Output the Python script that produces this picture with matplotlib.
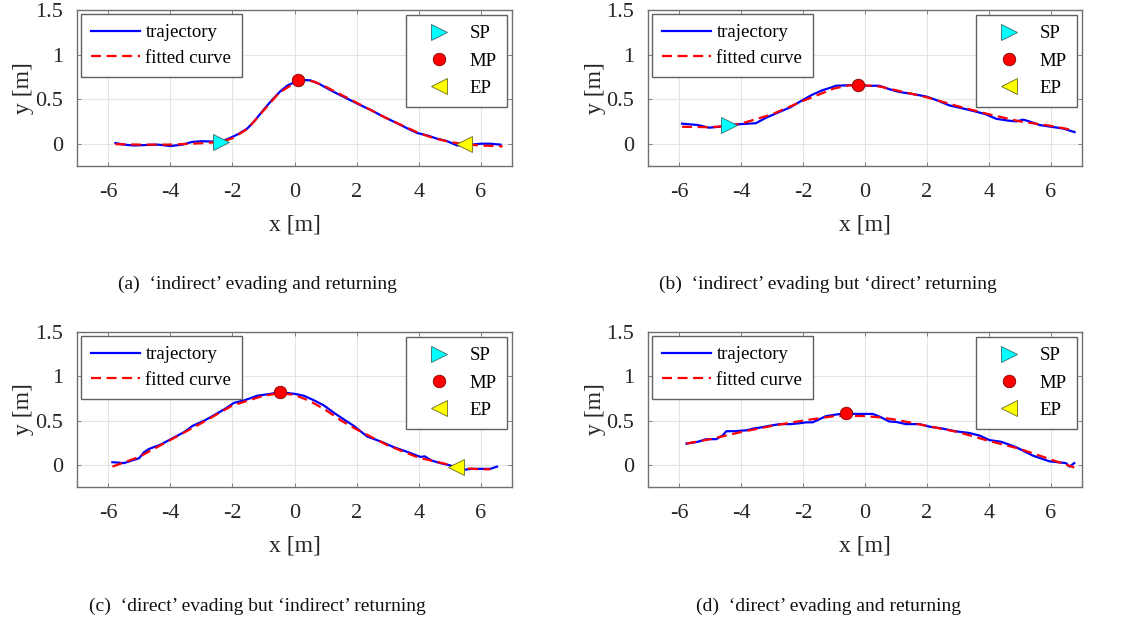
import numpy as np
import matplotlib
matplotlib.use('Agg')
import matplotlib.pyplot as plt
from matplotlib.lines import Line2D

plt.rcParams['font.family'] = ['Liberation Serif', 'DejaVu Serif']

# (a) 'indirect' evading and returning
traj_a_x = [-5.76, -5.5, -5.17, -4.8, -4.4, -3.99, -3.6, -3.3, -3.0, -2.7, -2.38, -2.1, -1.8, -1.52, -1.3,
            -1.09, -0.85, -0.67, -0.45, -0.24, 0.0, 0.12, 0.3, 0.52, 0.8, 1.16, 1.5, 2.02, 2.5, 2.88, 3.3,
            3.7, 3.95, 4.3, 4.59, 4.9, 5.24, 5.45, 5.7, 5.99, 6.3, 6.63]
traj_a_y = [0.007, -0.01, -0.02, -0.015, -0.01, -0.026, -0.01, 0.02, 0.028, 0.025, 0.02, 0.06, 0.11, 0.17,
            0.25, 0.34, 0.44, 0.51, 0.59, 0.65, 0.69, 0.71, 0.715, 0.71, 0.67, 0.60, 0.54, 0.45, 0.37, 0.30,
            0.23, 0.16, 0.12, 0.09, 0.056, 0.03, -0.02, -0.01, -0.01, 0.0, 0.0, -0.01]
fit_a_x = [-5.76, -5, -4, -3, -2.38, -2, -1.5, -1, -0.5, 0, 0.3, 0.6, 1, 1.5, 2, 2.5, 3, 3.5, 4, 4.5, 5,
           5.45, 6, 6.7]
fit_a_y = [-0.005, -0.01, -0.01, 0.005, 0.02, 0.06, 0.17, 0.37, 0.57, 0.68, 0.71, 0.70, 0.64, 0.55, 0.46,
           0.37, 0.28, 0.20, 0.12, 0.06, 0.02, -0.005, -0.02, -0.03]
sp_a = (-2.38, 0.02)
mp_a = (0.12, 0.71)
ep_a = (5.45, -0.005)

# (b) 'indirect' evading but 'direct' returning
traj_b_x = [-5.9, -5.4, -5.03, -4.7, -4.38, -4.0, -3.52, -3.2, -2.87, -2.4, -2.01, -1.7, -1.37, -1.1, -0.94,
            -0.6, -0.24, 0.1, 0.46, 0.8, 1.11, 1.5, 1.97, 2.3, 2.72, 3.1, 3.58, 3.9, 4.23, 4.6, 4.88, 5.1,
            5.3, 5.63, 6.0, 6.4, 6.76]
traj_b_y = [0.225, 0.21, 0.18, 0.19, 0.21, 0.22, 0.23, 0.29, 0.34, 0.41, 0.49, 0.55, 0.60, 0.63, 0.65,
            0.655, 0.66, 0.65, 0.65, 0.61, 0.58, 0.56, 0.53, 0.49, 0.43, 0.40, 0.36, 0.33, 0.28, 0.26, 0.25,
            0.27, 0.25, 0.21, 0.19, 0.17, 0.13]
fit_b_x = [-5.9, -5, -4.38, -4, -3, -2, -1, -0.5, 0, 0.5, 1, 2, 3, 4, 5, 6, 6.76]
fit_b_y = [0.19, 0.185, 0.20, 0.225, 0.33, 0.48, 0.62, 0.655, 0.655, 0.64, 0.60, 0.52, 0.42, 0.33, 0.25,
           0.20, 0.15]
sp_b = (-4.38, 0.21)
mp_b = (-0.24, 0.66)

# (c) 'direct' evading but 'indirect' returning
traj_c_x = [-5.86, -5.49, -5.0, -4.85, -4.68, -4.3, -3.98, -3.55, -3.28, -2.9, -2.59, -2.2, -1.95, -1.6,
            -1.2, -0.8, -0.47, -0.2, 0.03, 0.3, 0.62, 0.95, 1.26, 1.6, 1.91, 2.34, 2.8, 3.19, 3.6, 4.05,
            4.2, 4.4, 4.69, 5.0, 5.18, 5.44, 5.7, 5.98, 6.3, 6.52]
traj_c_y = [0.03, 0.02, 0.075, 0.14, 0.18, 0.23, 0.29, 0.37, 0.44, 0.50, 0.56, 0.64, 0.70, 0.73, 0.78,
            0.80, 0.82, 0.81, 0.80, 0.78, 0.73, 0.67, 0.59, 0.51, 0.44, 0.32, 0.26, 0.20, 0.15, 0.09, 0.095,
            0.05, 0.02, -0.005, -0.026, -0.056, -0.045, -0.045, -0.045, -0.02]
fit_c_x = [-5.86, -5, -4, -3, -2, -1, -0.47, 0, 0.5, 1, 1.5, 2, 2.5, 3, 3.5, 4, 4.5, 5, 5.2, 5.5, 6, 6.3]
fit_c_y = [-0.02, 0.09, 0.28, 0.47, 0.67, 0.78, 0.81, 0.79, 0.72, 0.62, 0.50, 0.40, 0.31, 0.22, 0.15,
           0.08, 0.04, 0.0, -0.02, -0.04, -0.05, -0.05]
mp_c = (-0.47, 0.82)
ep_c = (5.2, -0.025)

# (d) 'direct' evading and returning
traj_d_x = [-5.76, -5.4, -5.12, -4.8, -4.6, -4.47, -4.2, -3.83, -3.6, -3.4, -3.1, -2.75, -2.4, -2.11, -1.9,
            -1.69, -1.5, -1.26, -0.9, -0.61, -0.3, 0.0, 0.25, 0.5, 0.78, 1.0, 1.32, 1.55, 1.75, 2.1, 2.5,
            2.9, 3.36, 3.7, 4.01, 4.4, 4.87, 5.1, 5.41, 5.7, 5.95, 6.2, 6.48, 6.6, 6.75]
traj_d_y = [0.24, 0.26, 0.29, 0.29, 0.33, 0.38, 0.38, 0.39, 0.41, 0.42, 0.44, 0.46, 0.46, 0.47, 0.48,
            0.48, 0.51, 0.55, 0.57, 0.58, 0.575, 0.575, 0.575, 0.54, 0.49, 0.485, 0.46, 0.46, 0.46, 0.43,
            0.41, 0.38, 0.36, 0.33, 0.28, 0.26, 0.20, 0.16, 0.105, 0.07, 0.04, 0.03, 0.02, -0.02, 0.02]
fit_d_x = [-5.76, -5, -4, -3, -2, -1, -0.6, 0, 0.5, 1, 2, 3, 4, 5, 6, 6.75]
fit_d_y = [0.24, 0.29, 0.37, 0.44, 0.50, 0.55, 0.555, 0.55, 0.535, 0.51, 0.44, 0.37, 0.27, 0.18, 0.06, -0.03]
mp_d = (-0.6, 0.58)

captions = ["(a)  \u2018indirect\u2019 evading and returning",
            "(b)  \u2018indirect\u2019 evading but \u2018direct\u2019 returning",
            "(c)  \u2018direct\u2019 evading but \u2018indirect\u2019 returning",
            "(d)  \u2018direct\u2019 evading and returning"]
xticks = [-6, -4, -2, 0, 2, 4, 6]
xticklabels = ['-6', '-4', '-2', '0', '2', '4', '6']
yticks = [0, 0.5, 1, 1.5]
yticklabels = ['0', '0.5', '1', '1.5']

tick_col = '#262626'
frame_col = '#707070'
sp_style = dict(marker='>', color='#00ffff', mec='#3a6a6a', mew=0.6, ms=11, ls='none')
mp_style = dict(marker='o', color='#ff0000', mec='#800000', mew=0.6, ms=9, ls='none')
ep_style = dict(marker='<', color='#ffff00', mec='#6a6a20', mew=0.6, ms=11, ls='none')


def draw(ax, tx, ty, fx, fy, sp=None, mp=None, ep=None):
    l1, = ax.plot(tx, ty, color='#0000ff', lw=1.6, label='trajectory')
    l2, = ax.plot(fx, fy, color='#ff0000', lw=1.6, ls=(0, (4.5, 2.5)), label='fitted curve')
    for pt, st in [(sp, sp_style), (mp, mp_style), (ep, ep_style)]:
        if pt is not None:
            ax.plot([pt[0]], [pt[1]], zorder=5, **st)
    ax.set_xlim(-7, 7)
    ax.set_ylim(-0.25, 1.5)
    ax.set_xticks(xticks)
    ax.set_xticklabels(xticklabels)
    ax.set_yticks(yticks)
    ax.set_yticklabels(yticklabels)
    ax.tick_params(direction='in', length=3, width=0.6, top=True, right=True,
                   labelsize=16, colors=frame_col, labelcolor=tick_col)
    ax.tick_params(axis='x', pad=12.5)
    ax.tick_params(axis='y', pad=10)
    ax.grid(True, color='#e4e4e4', lw=0.8)
    ax.set_axisbelow(True)
    for s in ax.spines.values():
        s.set_color(frame_col)
        s.set_linewidth(1.0)
    ax.set_xlabel('x [m]', fontsize=17, color=tick_col, va='center')
    ax.set_ylabel('y [m]', fontsize=17, color=tick_col, va='center')
    ax.xaxis.set_label_coords(0.5, -0.38)
    ax.yaxis.set_label_coords(-0.122, 0.5)

    leg1 = ax.legend(handles=[l1, l2], loc='upper left', fontsize=13.5, handlelength=2.6,
                     handletextpad=0.3, labelspacing=0.45, borderaxespad=0.2, borderpad=0.55,
                     fancybox=False, framealpha=1, edgecolor='#606060')
    leg1.get_frame().set_linewidth(1.0)
    ax.add_artist(leg1)
    h = [Line2D([], [], **sp_style), Line2D([], [], **mp_style), Line2D([], [], **ep_style)]
    leg2 = ax.legend(handles=h, labels=['SP', 'MP', 'EP'], loc='upper right', fontsize=13.5,
                     handlelength=2.4, handletextpad=0.45, labelspacing=0.55, borderaxespad=0.25,
                     borderpad=0.55, fancybox=False, framealpha=1, edgecolor='#606060')
    leg2.get_frame().set_linewidth(1.0)


fig = plt.figure(figsize=(11.21, 6.22), dpi=100)
W, H = 1121, 622
ax_a = fig.add_axes([77 / W, 1 - 166 / H, 435 / W, 156 / H])
ax_b = fig.add_axes([648 / W, 1 - 166 / H, 434 / W, 156 / H])
ax_c = fig.add_axes([77 / W, 1 - 487 / H, 435 / W, 155 / H])
ax_d = fig.add_axes([648 / W, 1 - 487 / H, 434 / W, 155 / H])

draw(ax_a, traj_a_x, traj_a_y, fit_a_x, fit_a_y, sp=sp_a, mp=mp_a, ep=ep_a)
draw(ax_b, traj_b_x, traj_b_y, fit_b_x, fit_b_y, sp=sp_b, mp=mp_b)
draw(ax_c, traj_c_x, traj_c_y, fit_c_x, fit_c_y, mp=mp_c, ep=ep_c)
draw(ax_d, traj_d_x, traj_d_y, fit_d_x, fit_d_y, mp=mp_d)

cap_x = [257 / W, 828 / W, 257 / W, 828 / W]
cap_y = [1 - 284 / H, 1 - 284 / H, 1 - 606 / H, 1 - 606 / H]
for cx, cy, t in zip(cap_x, cap_y, captions):
    fig.text(cx, cy, t, ha='center', va='center', fontsize=14, color='#111111')

fig.savefig('out.png', dpi=100)
